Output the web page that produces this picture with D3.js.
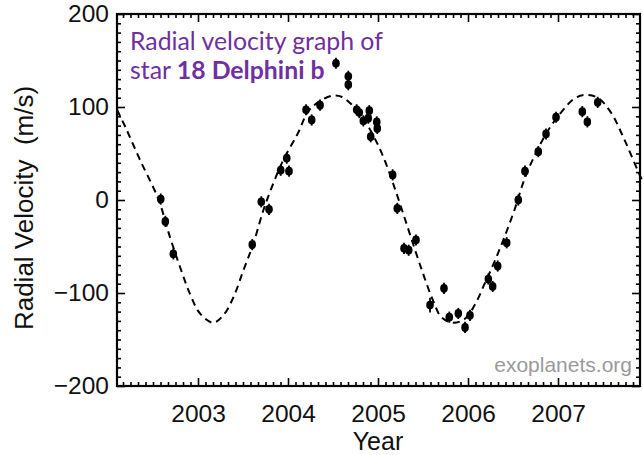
<!DOCTYPE html>
<html><head><meta charset="utf-8">
<script src="https://cdn.jsdelivr.net/npm/d3@7"></script>
<style>html,body{margin:0;padding:0;background:#fff;}svg{display:block;}</style>
</head><body>
<svg id="chart" width="644" height="455"></svg>
<script>
// Observed radial velocities (year, m/s)
const obsYears = [2002.586,2002.637,2002.726,2003.603,2003.703,2003.789,2003.919,2003.986,2004.011,
  2004.200,2004.263,2004.356,2004.533,2004.670,2004.670,2004.763,2004.792,2004.837,2004.892,2004.903,
  2004.919,2004.986,2004.992,2005.163,2005.214,2005.289,2005.341,2005.422,2005.578,2005.733,2005.792,
  2005.892,2005.967,2006.022,2006.226,2006.274,2006.330,2006.430,2006.559,2006.633,2006.781,2006.867,
  2006.978,2007.270,2007.326,2007.441];
const obsRV = [1,-23,-58,-48,-2,-10,32,45,31,
  97,86,102,147,133,124,97,94,85,88,96,
  68,84,77,27,-9,-52,-54,-43,-113,-95,-126,
  -122,-137,-124,-85,-93,-71,-46,0,31,52,71,
  89,95,84,105];
const obsErr = [6,6,6,6,6,6,6,6,6,
  6,6,6,6,6,6,6,6,6,6,6,
  6,6,6,6,6,6,6,6,8,6,6,
  6,6,6,6,6,6,6,6,6,6,6,
  6,6,6,6];
// Fitted orbit (dashed)
const fitYears = [2002.10,2002.20,2002.356,2002.559,2002.689,2002.80,2002.911,2003.022,2003.17,2003.281,
  2003.392,2003.503,2003.615,2003.726,2003.837,2003.948,2004.111,2004.222,2004.333,2004.481,
  2004.593,2004.704,2004.833,2004.944,2005.056,2005.167,2005.278,2005.389,2005.50,2005.611,
  2005.704,2005.833,2005.963,2006.074,2006.185,2006.296,2006.404,2006.515,2006.626,2006.737,
  2006.885,2007.033,2007.181,2007.292,2007.441,2007.589,2007.737,2007.885,2007.94];
const fitRV = [97,77,43,1,-40,-72,-101,-122,-132,-124,
  -105,-76,-47,-11,18,43,72,95,105,112,
  111,103,88,70,47,18,-14,-47,-79,-108,
  -126,-132,-128,-113,-90,-66,-40,-11,22,47,
  74,94,109,113,110,94,65,32,20];
const xTickYears = [2003,2004,2005,2006,2007];
const yTickValues = [-200,-100,0,100,200];
const yTickLabels = ["\u2212200","\u2212100","0","100","200"];

const svg = d3.select("#chart");
const L=117, R=640, T=14, B=386;
const x = d3.scaleLinear().domain([2002.1, 2007.911]).range([L, R]);
const y = d3.scaleLinear().domain([-200, 200]).range([B, T]);

const minorX = d3.range(2002*12, 2008*12+1).map(m => m/12)
  .filter(v => v > 2002.1 && v < 2007.911 && Math.abs(v - Math.round(v)) > 1e-6);
const minorY = d3.range(-200, 201, 10).filter(v => v % 100 !== 0);

const font = "'Liberation Sans', Arial, Helvetica, sans-serif";

function styleAxis(g){
  g.select(".domain").remove();
  g.selectAll(".tick line").attr("stroke","#000").attr("stroke-width",1.6);
  g.selectAll("text").attr("font-family",font).attr("font-size",24.5).attr("fill","#111");
}
// bottom
svg.append("g").attr("transform",`translate(0,${B})`)
  .call(d3.axisBottom(x).tickValues(xTickYears).tickFormat(d3.format("d")).tickSize(-8).tickPadding(19))
  .call(styleAxis);
svg.append("g").attr("transform",`translate(0,${B})`)
  .call(d3.axisBottom(x).tickValues(minorX).tickFormat("").tickSize(-4)).call(styleAxis);
// top
svg.append("g").attr("transform",`translate(0,${T})`)
  .call(d3.axisTop(x).tickValues(xTickYears).tickFormat("").tickSize(-8)).call(styleAxis);
svg.append("g").attr("transform",`translate(0,${T})`)
  .call(d3.axisTop(x).tickValues(minorX).tickFormat("").tickSize(-4)).call(styleAxis);
// left
svg.append("g").attr("transform",`translate(${L},0)`)
  .call(d3.axisLeft(y).tickValues(yTickValues).tickFormat((d,i)=>yTickLabels[i]).tickSize(-8).tickPadding(8))
  .call(styleAxis);
svg.append("g").attr("transform",`translate(${L},0)`)
  .call(d3.axisLeft(y).tickValues(minorY).tickFormat("").tickSize(-4)).call(styleAxis);
// right
svg.append("g").attr("transform",`translate(${R},0)`)
  .call(d3.axisRight(y).tickValues(yTickValues).tickFormat("").tickSize(-8)).call(styleAxis);
svg.append("g").attr("transform",`translate(${R},0)`)
  .call(d3.axisRight(y).tickValues(minorY).tickFormat("").tickSize(-4)).call(styleAxis);

// frame
svg.append("rect").attr("x",L).attr("y",T).attr("width",R-L).attr("height",B-T)
  .attr("fill","none").attr("stroke","#000").attr("stroke-width",2.2);

// fitted curve
const fit = fitYears.map((d,i)=>[d, fitRV[i]]);
const line = d3.line().x(d=>x(d[0])).y(d=>y(d[1])).curve(d3.curveCatmullRom.alpha(0.5));
svg.append("path").datum(fit).attr("d",line).attr("fill","none")
  .attr("stroke","#000").attr("stroke-width",2).attr("stroke-dasharray","7,5");

// observations
const obs = obsYears.map((d,i)=>({t:d, v:obsRV[i], e:obsErr[i]}));
svg.append("g").selectAll("line").data(obs).join("line")
  .attr("x1",d=>x(d.t)).attr("x2",d=>x(d.t))
  .attr("y1",d=>y(d.v+d.e)).attr("y2",d=>y(d.v-d.e))
  .attr("stroke","#000").attr("stroke-width",1.8);
svg.append("g").selectAll("ellipse").data(obs).join("ellipse")
  .attr("cx",d=>x(d.t)).attr("cy",d=>y(d.v)).attr("rx",3.8).attr("ry",4.4).attr("fill","#000");

// axis titles
svg.append("text").attr("x",378).attr("y",450).attr("text-anchor","middle")
  .attr("font-family",font).attr("font-size",25).attr("fill","#111").text("Year");
svg.append("text").attr("transform","translate(33,208) rotate(-90)").attr("text-anchor","middle")
  .attr("font-family",font).attr("font-size",26).attr("fill","#111")
  .attr("xml:space","preserve").style("white-space","pre").text("Radial Velocity  (m/s)");

// watermark
svg.append("text").attr("x",632).attr("y",372).attr("text-anchor","end")
  .attr("font-family",font).attr("font-size",21).attr("fill","#9a9a9a").text("exoplanets.org");

// purple annotation
const purple = "#7030a0";
const t1 = svg.append("text").attr("x",130).attr("y",50).attr("font-family","Lato, 'Open Sans', sans-serif")
  .attr("font-size",24).attr("fill",purple).text("Radial velocity graph of");
const w = t1.node().getComputedTextLength();
const fs = 24 * 253 / w;
t1.attr("font-size",fs);
const t2 = svg.append("text").attr("x",130).attr("y",79).attr("font-family","Lato, 'Open Sans', sans-serif")
  .attr("font-size",fs).attr("fill",purple).style("white-space","pre");
t2.append("tspan").text("star ");
t2.append("tspan").attr("font-weight","bold").text("18 Delphini b");
</script>
</body></html>
